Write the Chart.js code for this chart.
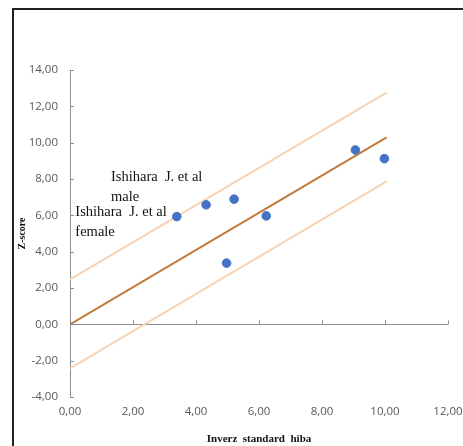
<!DOCTYPE html>
<html>
<head>
<meta charset="utf-8">
<script src="https://cdn.jsdelivr.net/npm/chart.js@4/dist/chart.umd.min.js"></script>
<style>
  html, body { margin: 0; padding: 0; background: #fff; overflow: hidden; }
  #wrap { position: relative; width: 463px; height: 446px; }
  #frame { position: absolute; left: 12px; top: 8px; width: 600px; height: 600px; border: 2px solid #222; box-sizing: border-box; }
  canvas { position: absolute; left: 0; top: 0; }
</style>
</head>
<body>
<div id="wrap">
  <div id="frame"></div>
  <canvas id="c" width="463" height="446"></canvas>
</div>
<script>
// Data
const pointsX = [3.39, 4.32, 5.21, 4.97, 6.23, 9.06, 9.98];
const pointsY = [5.93, 6.58, 6.89, 3.37, 5.97, 9.60, 9.12];
const lineX = [0, 10.05];
const fitY = [0, 10.29];
const upperY = [2.47, 12.76];
const lowerY = [-2.43, 7.87];
const xTicks = [0, 2, 4, 6, 8, 10, 12];
const yTicks = [-4, -2, 0, 2, 4, 6, 8, 10, 12, 14];
const annotations = [
  { lines: ["Ishihara  J. et al", "male"], x: 1.3, y: 8.08 },
  { lines: ["Ishihara  J. et al", "female"], x: 0.17, y: 6.15 }
];

const fmt = v => v.toFixed(2).replace('.', ',');
const toXY = (xs, ys) => xs.map((x, i) => ({ x, y: ys[i] }));
const tickFont = { family: 'Open Sans, Liberation Sans, sans-serif', size: 11.5 };

const innerTicks = {
  id: 'innerTicks',
  afterDraw(chart) {
    const { ctx, scales: { x, y } } = chart;
    const y0 = y.getPixelForValue(0);
    const x0 = x.getPixelForValue(0);
    ctx.save();
    ctx.strokeStyle = '#8c8c8c';
    ctx.lineWidth = 1;
    ctx.beginPath();
    xTicks.forEach(v => {
      const px = Math.round(x.getPixelForValue(v)) + 0.5;
      ctx.moveTo(px, y0); ctx.lineTo(px, y0 - 4);
    });
    yTicks.forEach(v => {
      const py = Math.round(y.getPixelForValue(v)) + 0.5;
      ctx.moveTo(x0, py); ctx.lineTo(x0 + 4, py);
    });
    ctx.stroke();
    ctx.fillStyle = '#111';
    ctx.font = '14.5px "Liberation Serif", serif';
    ctx.textBaseline = 'middle';
    ctx.textAlign = 'left';
    annotations.forEach(a => {
      const px = x.getPixelForValue(a.x);
      const py = y.getPixelForValue(a.y);
      a.lines.forEach((t, i) => ctx.fillText(t, px, py + i * 19.5));
    });
    ctx.restore();
  }
};

new Chart(document.getElementById('c'), {
  type: 'scatter',
  data: {
    datasets: [
      { type: 'line', data: toXY(lineX, upperY), borderColor: '#f6d3b3', borderWidth: 2, pointRadius: 0, fill: false, order: 3 },
      { type: 'line', data: toXY(lineX, lowerY), borderColor: '#f6d3b3', borderWidth: 2, pointRadius: 0, fill: false, order: 3 },
      { type: 'line', data: toXY(lineX, fitY), borderColor: '#c27a3a', borderWidth: 2, pointRadius: 0, fill: false, order: 2 },
      { data: toXY(pointsX, pointsY), backgroundColor: '#4472c4', borderColor: '#4472c4', pointRadius: 4.3, order: 1 }
    ]
  },
  options: {
    responsive: false,
    animation: false,
    events: [],
    layout: { padding: { top: 70, right: 0, left: 0, bottom: 0 } },
    plugins: { legend: { display: false }, tooltip: { enabled: false } },
    scales: {
      x: {
        type: 'linear', min: 0, max: 12,
        afterBuildTicks: s => { s.ticks = xTicks.map(v => ({ value: v })); },
        afterFit: s => { s.height = 49; s.paddingRight = 15; s.paddingLeft = 0; },
        grid: { display: false, drawTicks: false },
        border: { display: false },
        ticks: { padding: 8, color: '#595959', font: tickFont, callback: v => fmt(v), maxRotation: 0 },
        title: { display: true, text: 'Inverz  standard  hiba', color: '#111', font: { family: 'Liberation Serif, serif', size: 11, weight: 'bold' }, padding: { top: 6, bottom: 0 } }
      },
      y: {
        type: 'linear', min: -4, max: 14,
        afterBuildTicks: s => { s.ticks = yTicks.map(v => ({ value: v })); },
        afterFit: s => { s.width = 70; },
        grid: { drawTicks: false, color: ctx => ctx.tick && ctx.tick.value === 0 ? '#8c8c8c' : 'rgba(0,0,0,0)', lineWidth: 1 },
        border: { display: true, color: '#8c8c8c', width: 1 },
        ticks: { padding: 12, color: '#595959', font: tickFont, callback: v => fmt(v) },
        title: { display: true, text: 'Z-score', color: '#111', font: { family: 'Liberation Serif, serif', size: 10, weight: 'bold' }, padding: { top: 16, bottom: 0 } }
      }
    }
  },
  plugins: [innerTicks]
});
</script>
</body>
</html>
